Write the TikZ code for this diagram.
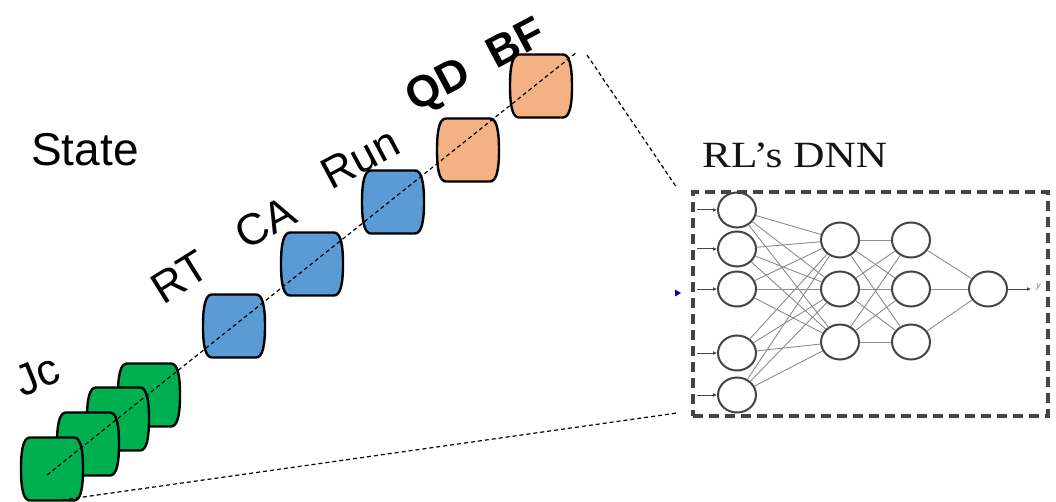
\documentclass[tikz,border=0pt]{standalone}
\usepackage{fontspec}
\setmainfont{Liberation Sans}
\newfontfamily\dnnserif{Liberation Serif}
\usetikzlibrary{shapes.geometric,arrows.meta}

\definecolor{boxgreen}{HTML}{00B050}
\definecolor{boxblue}{HTML}{5B9BD5}
\definecolor{boxorange}{HTML}{F4B183}
\definecolor{framegrey}{HTML}{444444}
\definecolor{wiregrey}{HTML}{8C8C8C}

\tikzset{
  % rounded barrel with bulging sides
  barrel/.pic={
    \path[pic actions]
      (-22,-31.5) -- (22,-31.5)
      .. controls (28.5,-31.5) and (31,-20) .. (31,0)
      .. controls (31,20) and (28.5,31.5) .. (22,31.5)
      -- (-22,31.5)
      .. controls (-28.5,31.5) and (-31,20) .. (-31,0)
      .. controls (-31,-20) and (-28.5,-31.5) .. (-22,-31.5) -- cycle;
    \coordinate (-c) at (0,0);
  },
  barrelbox/.style={draw=black, line width=2.4pt},
  statelabel/.style={font=\fontsize{44}{52}\selectfont, inner sep=0pt, rotate=28},
  boldlabel/.style={statelabel, font=\fontsize{44}{52}\selectfont\bfseries},
  link/.style={draw=black, line width=1.2pt, dash pattern=on 4pt off 3pt},
  dnnframe/.style={draw=framegrey, line width=3.5pt, dash pattern=on 10pt off 6pt},
  neuron/.style={ellipse, draw=framegrey, line width=2pt, minimum width=38pt, minimum height=35pt, inner sep=0pt},
  wire/.style={draw=wiregrey, line width=0.9pt},
  inarrow/.style={draw=framegrey, line width=1pt, -{Latex[length=4pt,width=4pt]}},
}

\begin{document}
\begin{tikzpicture}[x=1pt, y=-1pt]
\useasboundingbox (0,0) rectangle (1056,502);

% state title
\node[font=\fontsize{46}{54}\selectfont, anchor=base west, inner sep=0pt] (state) at (31,166) {State};

% state feature blocks, back to front
\pic[barrelbox, fill=boxgreen] (g4) at (149,395) {barrel};
\pic[barrelbox, fill=boxgreen] (g3) at (118,419) {barrel};
\pic[barrelbox, fill=boxgreen] (g2) at (88,444) {barrel};
\pic[barrelbox, fill=boxgreen] (g1) at (52,469) {barrel};
\pic[barrelbox, fill=boxblue] (b1) at (234,326) {barrel};
\pic[barrelbox, fill=boxblue] (b2) at (312,264) {barrel};
\pic[barrelbox, fill=boxblue] (b3) at (393,202) {barrel};
\pic[barrelbox, fill=boxorange] (o1) at (468,150) {barrel};
\pic[barrelbox, fill=boxorange] (o2) at (541,86) {barrel};

% feature names
\node[statelabel, rotate=-6] (ljc) at (37,375) {Jc};
\node[statelabel, rotate=4] (lrt) at (180,277) {RT};
\node[statelabel] (lca) at (265,223) {CA};
\node[statelabel] (lrun) at (360,158) {Run};
\node[boldlabel] (lqd) at (439,87) {QD};
\node[boldlabel] (lbf) at (515,42) {BF};

% axis through the blocks and zoom lines to the network
\coordinate (axisstart) at (47,475);
\coordinate (axisend) at (577,52);
\coordinate (zoomtop) at (587,55);
\coordinate (zoombot) at (62,500);
\coordinate (dnntl) at (677,188);
\coordinate (dnnbl) at (677,413);
\draw[link] (axisstart) -- (axisend);
\draw[link] (zoomtop) -- (dnntl);
\draw[link] (zoombot) -- (dnnbl);

% network frame and title
\node[dnnframe, minimum width=355pt, minimum height=224pt, inner sep=0pt] (dnn) at (870.5,304) {};
\node[font=\dnnserif\fontsize{37}{40}\selectfont, text=black!92, anchor=base west, inner sep=0pt, xscale=1.17] (dnntitle) at (702,168) {RL’s DNN};

% neurons
\foreach \n/\y in {1/210,2/249,3/289,4/353,5/395}
  \node[neuron] (i\n) at (737,\y) {};
\foreach \n/\y in {1/240,2/289,3/342} {
  \node[neuron] (h\n) at (840,\y) {};
  \node[neuron] (k\n) at (911,\y) {};
}
\node[neuron] (out) at (988,289) {};

% connections
\foreach \a in {1,...,5}
  \foreach \b in {1,2,3}
    \draw[wire] (i\a) -- (h\b);
\foreach \a in {1,2,3}
  \foreach \b in {1,2,3}
    \draw[wire] (h\a) -- (k\b);
\foreach \a in {1,2,3}
  \draw[wire] (k\a) -- (out);

% inputs and output
\foreach \n/\y in {1/210,2/249,3/289,4/353,5/395} {
  \coordinate (in\n) at (697,\y);
  \draw[inarrow] (in\n) -- (i\n);
}
\coordinate (yout) at (1031,289);
\draw[inarrow] (out) -- (yout);
\node[text=black!50, font=\fontsize{9}{9}\selectfont\itshape, anchor=west, inner sep=0pt] (ylab) at (1036,287) {y};
\node[text=black!35, font=\fontsize{7}{7}\selectfont, inner sep=0pt] (gap) at (737,324) {:};

% small marker left of the frame
\fill[blue!70!black] (675,289.5) -- (681,293) -- (675,296.5) -- cycle;
\end{tikzpicture}
\end{document}
